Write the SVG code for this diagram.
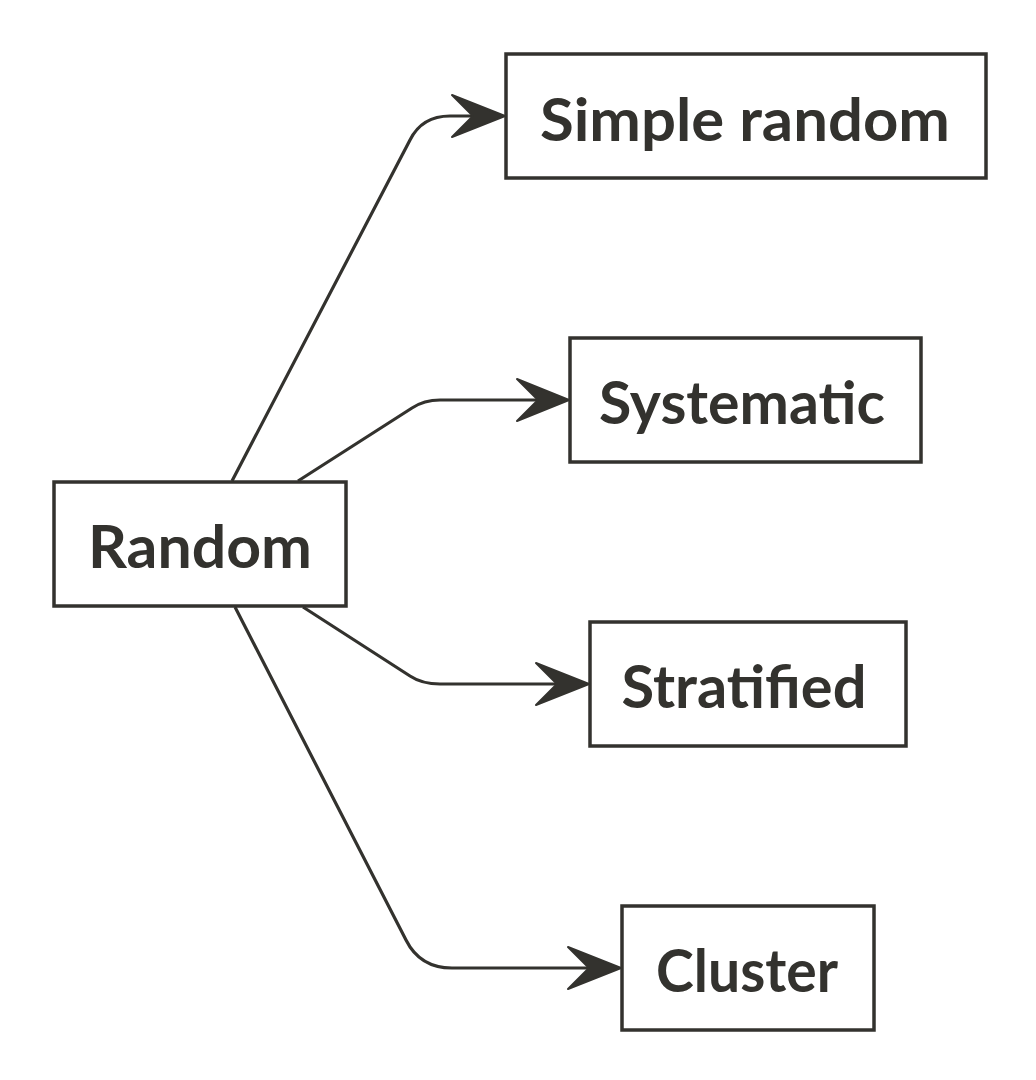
<svg xmlns="http://www.w3.org/2000/svg" width="1036" height="1080" viewBox="0 0 1036 1080">
<defs>
<style>
.box{fill:#fff;stroke:#33322e;stroke-width:3.5}
.lbl{font-family:Lato,"Open Sans","Liberation Sans",sans-serif;font-weight:bold;font-size:60px;fill:#33322e;text-anchor:middle}
.edge{fill:none;stroke:#33322e;stroke-width:3.2}
.head{fill:#33322e;stroke:#33322e;stroke-width:2;stroke-linejoin:round}
</style>
</defs>
<rect width="1036" height="1080" fill="#fff"/>
<g id="connectors">
<path class="edge" d="M232,481 L410,140 Q422,116 450,116 L478,116"/>
<polygon class="head" points="505,116 452,95 473,116 452,137"/>
<path class="edge" d="M298,481 L412,408 Q424,400 440,400 L544,400"/>
<polygon class="head" points="569,400 517,379 538,400 517,421"/>
<path class="edge" d="M303,607 L410,676 Q422,684 440,684 L564,684"/>
<polygon class="head" points="589,684 536,663 557,684 536,705"/>
<path class="edge" d="M235,607 L406,940 Q420,968 452,968 L596,968"/>
<polygon class="head" points="621,968 568,947 589,968 568,989"/>
</g>
<g id="random"><rect class="box" x="54" y="482" width="292" height="124"/><text class="lbl" x="200" y="568" textLength="224" lengthAdjust="spacingAndGlyphs">Random</text></g>
<g id="simple-random"><rect class="box" x="506" y="54" width="480" height="124"/><text class="lbl" x="745" y="141" textLength="410" lengthAdjust="spacingAndGlyphs">Simple random</text></g>
<g id="systematic"><rect class="box" x="570" y="338" width="351" height="124"/><text class="lbl" x="742" y="424" textLength="286" lengthAdjust="spacingAndGlyphs">Systematic</text></g>
<g id="stratified"><rect class="box" x="590" y="622" width="316" height="124"/><text class="lbl" x="744" y="708" textLength="245" lengthAdjust="spacingAndGlyphs">Stratified</text></g>
<g id="cluster"><rect class="box" x="622" y="906" width="252" height="124"/><text class="lbl" x="747" y="992" textLength="182" lengthAdjust="spacingAndGlyphs">Cluster</text></g>
</svg>
